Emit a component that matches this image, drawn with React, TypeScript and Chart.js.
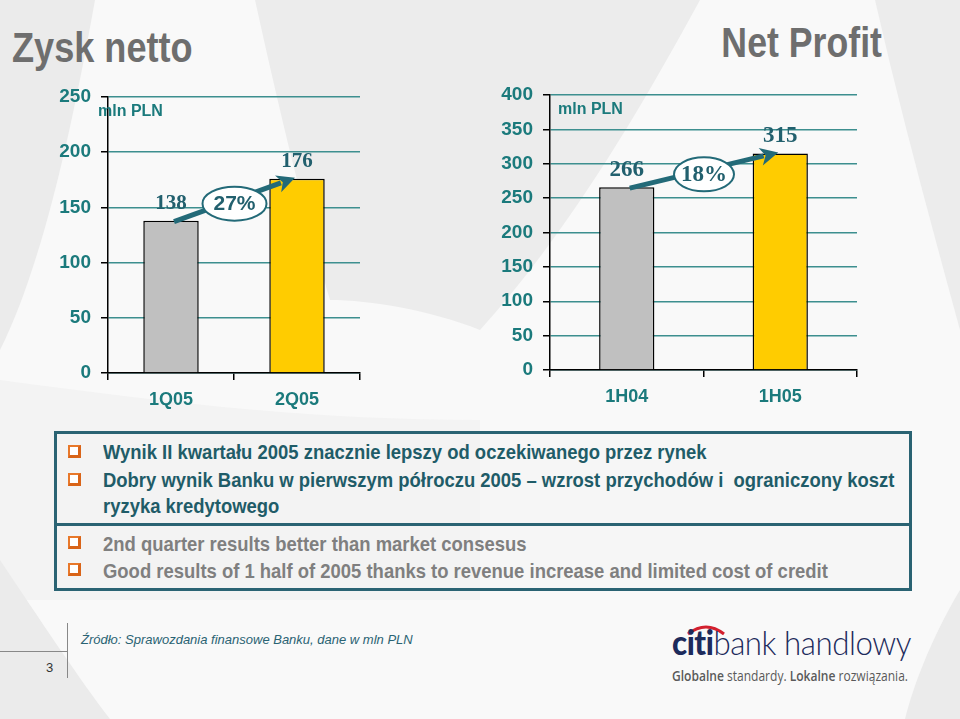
import React, { useEffect, useRef } from "react";
import { Chart, registerables } from "chart.js";

Chart.register(...registerables);

// ---- data ----
const quarterLabels = ["1Q05", "2Q05"];
const quarterValues = [138, 176];
const quarterGrowth = "27%";
const quarterAxis = [0, 250, 50]; // min, max, step

const halfLabels = ["1H04", "1H05"];
const halfValues = [266, 315];
const halfGrowth = "18%";
const halfAxis = [0, 400, 50];

const barColors = ["#C0C0C0", "#FFCC00"];
const unitLabel = "mln PLN";

const polishBullets = [
  "Wynik II kwartału 2005 znacznie lepszy od oczekiwanego przez rynek",
  "Dobry wynik Banku w pierwszym półroczu 2005 – wzrost przychodów i  ograniczony koszt",
];
const polishWrap = "ryzyka kredytowego";
const englishBullets = [
  "2nd quarter results better than market consesus",
  "Good results of 1 half of 2005 thanks to revenue increase and limited cost of credit",
];
const sourceNote = "Źródło: Sprawozdania finansowe Banku, dane w mln PLN";
const pageNumber = "3";

// ---- styles ----
const SANS = "'Liberation Sans', Arial, Helvetica, sans-serif";
const SERIF = "'Liberation Serif', 'Times New Roman', serif";
const TEAL = "#1b7a7c";
const GRID = "#3d8f8f";
const DARK = "#22606e";
const ARROW = "#236a78";

type AnnotCfg = {
  valueSize: number;
  growth: string;
  growthFont: string;
  rx: number;
  unitDx: number;
};

function makeAnnot(cfg: AnnotCfg) {
  return {
    id: "annot",
    afterDatasetsDraw(chart: any) {
      const ctx = chart.ctx as CanvasRenderingContext2D;
      const bars = chart.getDatasetMeta(0).data;
      const vals = chart.data.datasets[0].data as number[];
      const area = chart.chartArea;
      ctx.save();
      // unit
      ctx.font = `bold 16px ${SANS}`;
      ctx.fillStyle = TEAL;
      ctx.textAlign = "left";
      ctx.textBaseline = "middle";
      ctx.fillText(unitLabel, area.left + cfg.unitDx, area.top + 15);
      // value labels
      ctx.font = `bold ${cfg.valueSize}px ${SERIF}`;
      ctx.fillStyle = DARK;
      ctx.textAlign = "center";
      ctx.textBaseline = "middle";
      bars.forEach((b: any, i: number) => {
        ctx.fillText(String(vals[i]), b.x, b.y - 17);
      });
      // arrow
      const b0 = bars[0];
      const b1 = bars[1];
      const sx = b0.x + 3;
      const sy = b0.y + 1;
      const ex = b1.x - 2;
      const ey = b1.y - 1;
      const ang = Math.atan2(ey - sy, ex - sx);
      const headLen = 18;
      const headW = 9;
      const hx = ex - headLen * Math.cos(ang);
      const hy = ey - headLen * Math.sin(ang);
      ctx.strokeStyle = ARROW;
      ctx.lineWidth = 5;
      ctx.beginPath();
      ctx.moveTo(sx, sy);
      ctx.lineTo(hx + 3 * Math.cos(ang), hy + 3 * Math.sin(ang));
      ctx.stroke();
      ctx.fillStyle = ARROW;
      ctx.beginPath();
      ctx.moveTo(ex, ey);
      ctx.lineTo(hx + headW * Math.sin(ang), hy - headW * Math.cos(ang));
      ctx.lineTo(hx + 5 * Math.cos(ang), hy + 5 * Math.sin(ang));
      ctx.lineTo(hx - headW * Math.sin(ang), hy + headW * Math.cos(ang));
      ctx.closePath();
      ctx.fill();
      // ellipse
      const mx = (sx + ex) / 2;
      const my = (sy + ey) / 2 + 4;
      ctx.beginPath();
      ctx.ellipse(mx, my, cfg.rx, 17, 0, 0, Math.PI * 2);
      ctx.fillStyle = "#ffffff";
      ctx.fill();
      ctx.lineWidth = 2;
      ctx.strokeStyle = ARROW;
      ctx.stroke();
      ctx.fillStyle = DARK;
      ctx.font = cfg.growthFont;
      ctx.textAlign = "center";
      ctx.textBaseline = "middle";
      ctx.fillText(cfg.growth, mx, my + 1);
      ctx.restore();
    },
  };
}

function buildConfig(
  labels: string[],
  values: number[],
  axis: number[],
  barPct: number,
  yWidth: number,
  xHeight: number,
  padding: { top: number; right: number },
  annot: AnnotCfg
): any {
  return {
    type: "bar",
    data: {
      labels,
      datasets: [
        {
          data: values,
          backgroundColor: barColors,
          borderColor: "#000000",
          borderWidth: 1.5,
          barPercentage: barPct,
          categoryPercentage: 1,
        },
      ],
    },
    options: {
      animation: false,
      responsive: false,
      layout: { padding: { top: padding.top, right: padding.right, left: 0, bottom: 0 } },
      plugins: { legend: { display: false }, tooltip: { enabled: false } },
      scales: {
        x: {
          grid: {
            display: true,
            drawOnChartArea: false,
            drawTicks: true,
            tickLength: 7,
            tickColor: "#000000",
            lineWidth: 1.5,
            offset: true,
          },
          border: { display: true, color: "#000000", width: 1.5 },
          ticks: {
            color: TEAL,
            font: { family: SANS, size: 18, weight: "bold" },
            padding: 9,
          },
          afterFit(s: any) {
            s.height = xHeight;
          },
        },
        y: {
          min: axis[0],
          max: axis[1],
          ticks: {
            stepSize: axis[2],
            color: TEAL,
            font: { family: SANS, size: 19, weight: "bold" },
            padding: 10,
          },
          grid: {
            color: GRID,
            lineWidth: 1.5,
            tickLength: 7,
            tickColor: "#000000",
          },
          border: { display: true, color: "#000000", width: 1.5 },
          afterFit(s: any) {
            s.width = yWidth;
          },
        },
      },
    },
    plugins: [makeAnnot(annot)],
  };
}

function BarChart(props: { config: any; width: number; height: number; style: React.CSSProperties }) {
  const ref = useRef<HTMLCanvasElement | null>(null);
  useEffect(() => {
    if (!ref.current) return;
    const chart = new Chart(ref.current, props.config);
    return () => chart.destroy();
  }, []);
  return (
    <canvas
      ref={ref}
      width={props.width}
      height={props.height}
      style={{ position: "absolute", width: props.width, height: props.height, ...props.style }}
    />
  );
}

function CheckBox(props: { top: number }) {
  return (
    <div
      style={{
        position: "absolute",
        left: 68,
        top: props.top,
        width: 8,
        height: 8,
        borderTop: "2px solid #e8782a",
        borderLeft: "2px solid #e8782a",
        borderRight: "3px solid #d96418",
        borderBottom: "3px solid #d96418",
        background: "#ffffff",
      }}
    />
  );
}

export default function App() {
  useEffect(() => {
    document.body.style.margin = "0";
  }, []);

  const leftCfg = buildConfig(
    quarterLabels,
    quarterValues,
    quarterAxis,
    0.44,
    108,
    47,
    { top: 37, right: 20 },
    { valueSize: 21, growth: quarterGrowth, growthFont: `bold 21px ${SANS}`, rx: 32, unitDx: -10 }
  );
  const rightCfg = buildConfig(
    halfLabels,
    halfValues,
    halfAxis,
    0.36,
    110,
    50,
    { top: 35, right: 23 },
    { valueSize: 23, growth: halfGrowth, growthFont: `bold 23px ${SERIF}`, rx: 30, unitDx: 8 }
  );

  const lineStyle: React.CSSProperties = {
    position: "absolute",
    left: 103,
    fontFamily: SANS,
    fontWeight: "bold",
    fontSize: 20.5,
    lineHeight: "28px",
    whiteSpace: "pre",
    transform: "scaleX(0.9)",
    transformOrigin: "left top",
  };

  return (
    <div
      style={{
        position: "absolute",
        left: 0,
        top: 0,
        width: 960,
        height: 719,
        overflow: "hidden",
        background: "#f7f7f7",
        fontFamily: SANS,
      }}
    >
      <svg width={960} height={719} style={{ position: "absolute", left: 0, top: 0 }}>
        <rect x={0} y={0} width={960} height={719} fill="#f9f9f9" />
        <path d="M 0 0 L 95 0 C 70 140 40 270 0 350 Z" fill="#ebebeb" />
        <path d="M 255 0 L 700 0 C 640 110 570 230 480 330 C 430 310 370 300 330 300 C 300 200 275 90 255 0 Z" fill="#ececec" />
        <path d="M 875 0 L 960 0 L 960 330 C 930 220 900 110 875 0 Z" fill="#ececec" />
        <path d="M 0 380 C 150 400 300 420 480 420 L 480 600 L 0 600 Z" fill="#f3f3f3" />
        <path d="M 0 560 C 40 620 80 680 110 719 L 0 719 Z" fill="#ebebeb" />
        <path d="M 960 590 C 930 640 912 690 905 719 L 960 719 Z" fill="#ebebeb" />
      </svg>

      <div
        style={{
          position: "absolute",
          left: 12,
          top: 27,
          fontSize: 42,
          lineHeight: "42px",
          fontWeight: "bold",
          color: "#6e6e6e",
          transform: "scaleX(0.86)",
          transformOrigin: "left top",
          whiteSpace: "nowrap",
        }}
      >
        Zysk netto
      </div>
      <div
        style={{
          position: "absolute",
          right: 78,
          top: 22,
          fontSize: 42,
          lineHeight: "42px",
          fontWeight: "bold",
          color: "#6e6e6e",
          transform: "scaleX(0.85)",
          transformOrigin: "right top",
          whiteSpace: "nowrap",
        }}
      >
        Net Profit
      </div>

      <BarChart config={leftCfg} width={380} height={360} style={{ left: 0, top: 60 }} />
      <BarChart config={rightCfg} width={440} height={360} style={{ left: 440, top: 60 }} />

      {/* text box */}
      <div
        style={{
          position: "absolute",
          left: 54,
          top: 431,
          width: 858,
          height: 160,
          boxSizing: "border-box",
          border: "3px solid #2a6373",
          background: "rgba(244,244,244,0.6)",
        }}
      />
      <div style={{ position: "absolute", left: 54, top: 523, width: 858, height: 3, background: "#2a6373" }} />

      <CheckBox top={445} />
      <CheckBox top={473} />
      <CheckBox top={536} />
      <CheckBox top={563} />

      <div style={{ ...lineStyle, top: 438, color: "#1f5c68" }}>{polishBullets[0]}</div>
      <div style={{ ...lineStyle, top: 466, color: "#1f5c68" }}>{polishBullets[1]}</div>
      <div style={{ ...lineStyle, top: 492, color: "#1f5c68" }}>{polishWrap}</div>
      <div style={{ ...lineStyle, top: 530, color: "#7f7f7f" }}>{englishBullets[0]}</div>
      <div style={{ ...lineStyle, top: 557, color: "#7f7f7f" }}>{englishBullets[1]}</div>

      {/* footer */}
      <div style={{ position: "absolute", left: 0, top: 651, width: 67, height: 1, background: "#888" }} />
      <div style={{ position: "absolute", left: 67, top: 623, width: 1, height: 55, background: "#888" }} />
      <div
        style={{
          position: "absolute",
          left: 46,
          top: 660,
          fontSize: 13,
          lineHeight: "16px",
          color: "#333",
        }}
      >
        {pageNumber}
      </div>
      <div
        style={{
          position: "absolute",
          left: 81,
          top: 632,
          fontSize: 13,
          lineHeight: "16px",
          fontStyle: "italic",
          color: "#2a6373",
          whiteSpace: "nowrap",
        }}
      >
        {sourceNote}
      </div>

      {/* logo */}
      <svg width={40} height={14} style={{ position: "absolute", left: 686, top: 622 }}>
        <path d="M 2 12 Q 20 -2 38 12" stroke="#d3202e" strokeWidth={3} fill="none" />
      </svg>
      <div
        style={{
          position: "absolute",
          left: 672,
          top: 622,
          fontSize: 34,
          lineHeight: "40px",
          color: "#1d2b5c",
          whiteSpace: "nowrap",
          fontFamily: "Lato, 'Open Sans', sans-serif",
          letterSpacing: -0.5,
          transform: "scaleX(0.92)",
          transformOrigin: "left top",
        }}
      >
        <span style={{ fontWeight: 900 }}>citi</span>
        <span style={{ fontWeight: 300 }}>bank handlowy</span>
      </div>
      <div
        style={{
          position: "absolute",
          left: 672,
          top: 667,
          fontSize: 14.5,
          lineHeight: "18px",
          color: "#5a5a5a",
          whiteSpace: "nowrap",
          fontFamily: "'Open Sans', sans-serif",
          transform: "scaleX(0.83)",
          transformOrigin: "left top",
        }}
      >
        <span style={{ fontWeight: 600 }}>Globalne </span>
        <span>standardy. </span>
        <span style={{ fontWeight: 600 }}>Lokalne </span>
        <span>rozwiązania.</span>
      </div>
    </div>
  );
}
